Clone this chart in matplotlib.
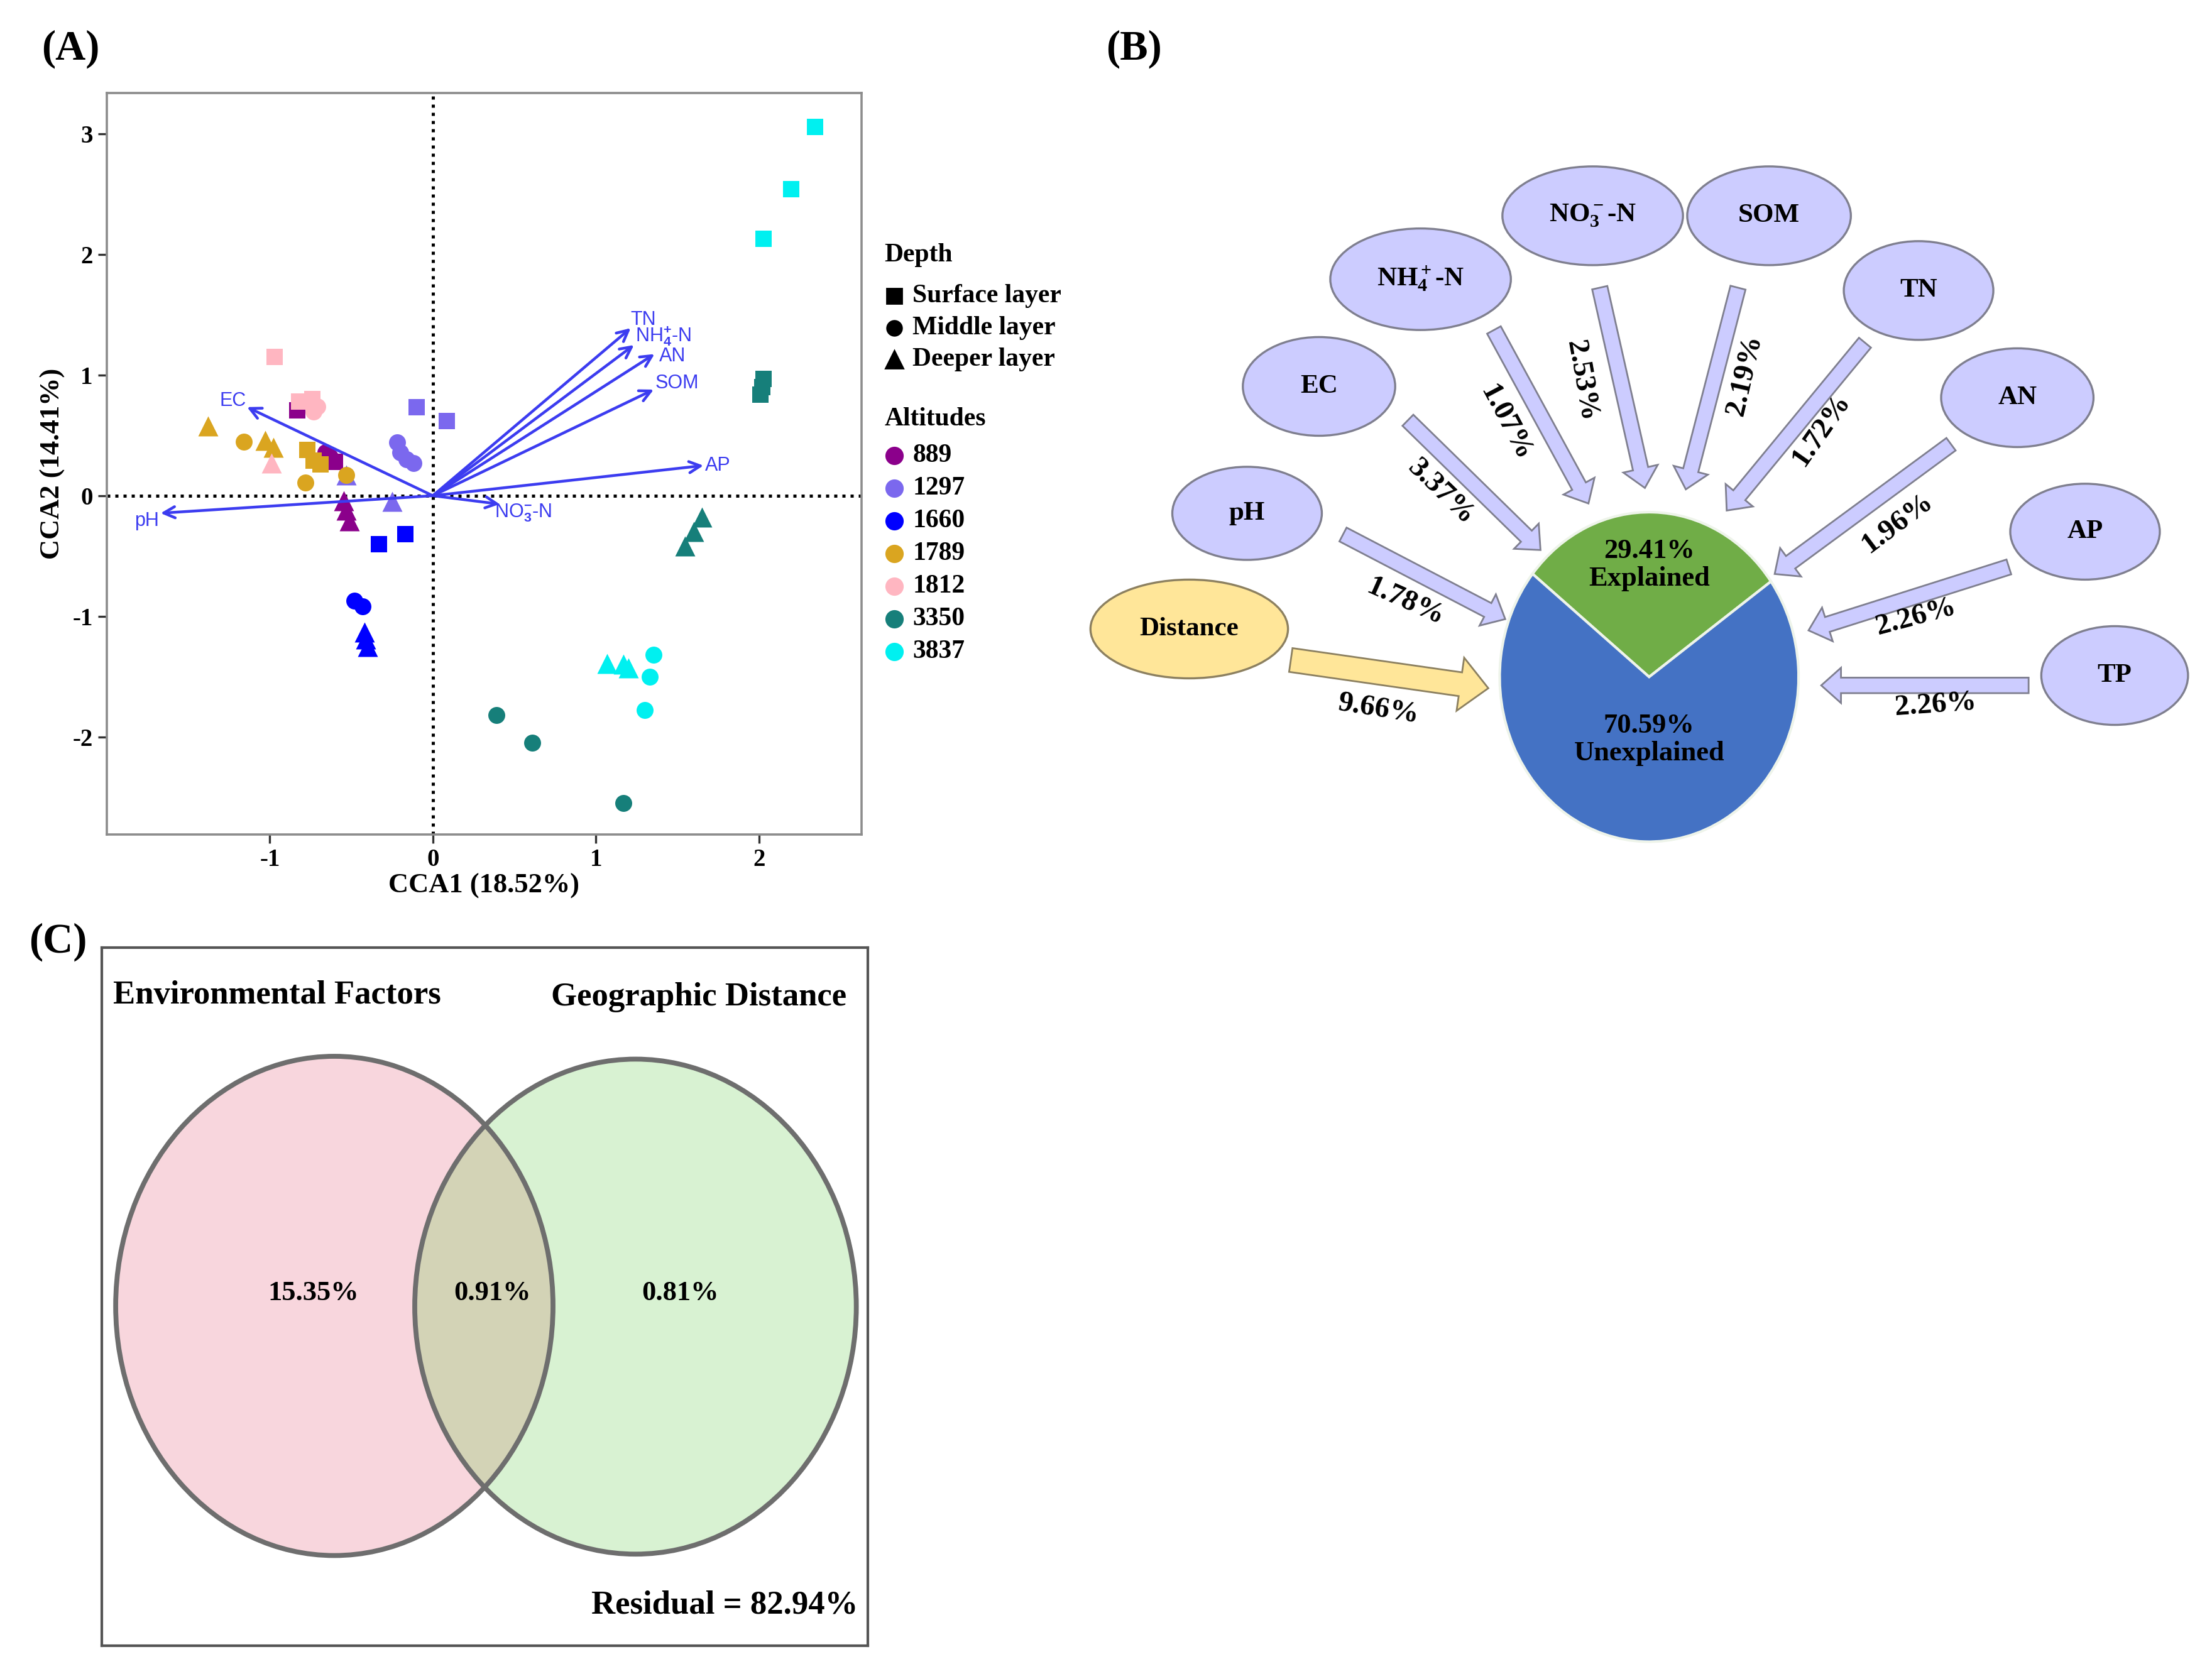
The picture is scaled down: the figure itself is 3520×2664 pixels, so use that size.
import matplotlib
matplotlib.use('Agg')
import matplotlib.pyplot as plt
from matplotlib.patches import Ellipse

plt.rcParams['font.family'] = ['Liberation Serif', 'DejaVu Serif']
plt.rcParams['font.weight'] = 'bold'
plt.rcParams['axes.labelweight'] = 'bold'
plt.rcParams['axes.unicode_minus'] = False
plt.rcParams['mathtext.fontset'] = 'custom'
plt.rcParams['mathtext.rm'] = 'Liberation Serif:bold'
plt.rcParams['mathtext.bf'] = 'Liberation Serif:bold'
plt.rcParams['mathtext.it'] = 'Liberation Serif:bold:italic'
plt.rcParams['mathtext.sf'] = 'Liberation Sans'

# ---------------- data (A) CCA ----------------
altitudes = ['889', '1297', '1660', '1789', '1812', '3350', '3837']
alt_colors = ['#8B008B', '#7B68EE', '#0000FF', '#DAA520', '#FFB6C1', '#167F7A', '#00F0F0']
depths = ['Surface layer', 'Middle layer', 'Deeper layer']
depth_markers = ['s', 'o', '^']

# one entry per sample: altitude index, depth index, CCA1, CCA2
sample_alt = [0, 0, 0, 0, 0, 0, 0,
              1, 1, 1, 1, 1, 1, 1, 1,
              2, 2, 2, 2, 2, 2, 2,
              3, 3, 3, 3, 3, 3, 3, 3, 3,
              4, 4, 4, 4, 4, 4,
              5, 5, 5, 5, 5, 5, 5, 5, 5,
              6, 6, 6, 6, 6, 6, 6, 6, 6]
sample_depth = [0, 0, 1, 1, 2, 2, 2,
                0, 0, 1, 1, 1, 1, 2, 2,
                0, 0, 1, 1, 2, 2, 2,
                0, 0, 0, 1, 1, 1, 2, 2, 2,
                0, 0, 0, 1, 1, 2,
                0, 0, 0, 1, 1, 1, 2, 2, 2,
                0, 0, 0, 1, 1, 1, 2, 2, 2]
cca1 = [-0.83, -0.60, -0.66, -0.63, -0.545, -0.53, -0.51,
        -0.10, 0.086, -0.22, -0.20, -0.16, -0.12, -0.25, -0.53,
        -0.33, -0.17, -0.48, -0.43, -0.42, -0.41, -0.40,
        -0.77, -0.73, -0.69, -1.16, -0.78, -0.53, -1.38, -1.03, -0.98,
        -0.97, -0.82, -0.74, -0.71, -0.73, -0.99,
        2.03, 2.01, 2.02, 0.39, 0.61, 1.17, 1.65, 1.60, 1.545,
        2.345, 2.20, 2.03, 1.355, 1.33, 1.30, 1.07, 1.17, 1.20]
cca2 = [0.71, 0.28, 0.36, 0.32, -0.04, -0.12, -0.21,
        0.735, 0.62, 0.44, 0.36, 0.30, 0.27, -0.05, 0.17,
        -0.40, -0.32, -0.87, -0.92, -1.13, -1.19, -1.25,
        0.38, 0.29, 0.26, 0.445, 0.11, 0.17, 0.58, 0.46, 0.40,
        1.15, 0.78, 0.80, 0.74, 0.70, 0.27,
        0.97, 0.84, 0.90, -1.82, -2.05, -2.55, -0.18, -0.30, -0.42,
        3.06, 2.54, 2.13, -1.32, -1.50, -1.78, -1.39, -1.40, -1.43]

env_labels = ['TN', r'NH$_\mathsf{4}^\mathsf{+}$-N', 'AN', 'SOM', 'AP',
              r'NO$_\mathsf{3}^\mathsf{-}$-N', 'EC', 'pH']
env_x = [1.214, 1.234, 1.36, 1.355, 1.66, 0.41, -1.14, -1.67]
env_y = [1.39, 1.25, 1.175, 0.88, 0.25, -0.07, 0.735, -0.145]

# ---------------- data (B) variation partitioning ----------------
b_factors = ['pH', 'EC', r'NH$_4^+$-N', r'NO$_3^-$-N', 'SOM', 'TN', 'AN', 'AP', 'TP']
b_pct = [1.78, 3.37, 1.07, 2.53, 2.19, 1.72, 1.96, 2.26, 2.26]
dist_pct = 9.66
explained = 29.41
unexplained = 70.59

# ---------------- data (C) Venn ----------------
env_only = 15.35
shared = 0.91
geo_only = 0.81
residual = 82.94

# ---------------- layout ----------------
W, H = 1568, 1187
fig = plt.figure(figsize=(17.6, 13.32), dpi=200)

lay = fig.add_axes([0, 0, 1, 1])
lay.set_xlim(0, W)
lay.set_ylim(H, 0)
lay.axis('off')
lay.patch.set_visible(False)

lay.text(50, 35, '(A)', fontsize=24, ha='center', va='center')
lay.text(804, 35, '(B)', fontsize=24, ha='center', va='center')
lay.text(41, 668, '(C)', fontsize=24, ha='center', va='center')

# ---- panel A ----
ax = fig.add_axes([170 / 3520, 1 - 1328 / 2664, 1201 / 3520, 1180 / 2664])
for i, c in enumerate(alt_colors):
    for j, m in enumerate(depth_markers):
        xs = [x for x, a, d in zip(cca1, sample_alt, sample_depth) if a == i and d == j]
        ys = [y for y, a, d in zip(cca2, sample_alt, sample_depth) if a == i and d == j]
        ms = 11.5 if m == '^' else 9.7
        ax.scatter(xs, ys, s=ms ** 2, marker=m, color=c, linewidths=0, zorder=3)

ax.axhline(0, color='k', ls=(0, (1, 1.6)), lw=1.8, zorder=1)
ax.axvline(0, color='k', ls=(0, (1, 1.6)), lw=1.8, zorder=1)

arrow_c = '#3C3CF0'
lab_dx = [0.0, 0.01, 0.03, 0.01, 0.01, -0.03, -0.005, -0.01]
lab_dy = [0.07, 0.07, -0.02, 0.05, 0.0, -0.075, 0.05, -0.065]
lab_ha = ['left', 'left', 'left', 'left', 'left', 'left', 'right', 'right']
for lab, x, y, dx, dy, ha in zip(env_labels, env_x, env_y, lab_dx, lab_dy, lab_ha):
    ax.annotate('', xy=(x, y), xytext=(0, 0),
                arrowprops=dict(arrowstyle='->', color=arrow_c, lw=1.6,
                                mutation_scale=16, shrinkA=0, shrinkB=0), zorder=4)
    ax.text(x + dx, y + dy, lab, color=arrow_c, fontsize=11, fontweight='normal',
            family=['Liberation Sans', 'DejaVu Sans'], ha=ha, va='center', zorder=5)

ax.set_xlim(-2.0, 2.63)
ax.set_ylim(-2.81, 3.34)
ax.set_xticks([-1, 0, 1, 2])
ax.set_yticks([-2, -1, 0, 1, 2, 3])
ax.tick_params(labelsize=14, length=5, width=1.2, color='#333333', pad=3)
for lbl in ax.get_xticklabels() + ax.get_yticklabels():
    lbl.set_fontweight('bold')
for sp in ax.spines.values():
    sp.set_color('#8c8c8c')
    sp.set_linewidth(1.3)
ax.set_xlabel('CCA1 (18.52%)', fontsize=16, fontweight='bold', labelpad=1)
ax.set_ylabel('CCA2 (14.41%)', fontsize=16, fontweight='bold', labelpad=4)

# legend (manual, to the right of panel A)
lay.text(627, 181, 'Depth', fontsize=15, ha='left', va='center')
for k, (name, m) in enumerate(zip(depths, depth_markers)):
    yk = 210 + k * 22.5
    lay.plot(634, yk, marker=m, color='k', ms=8.5 if m != '^' else 10, ls='none')
    lay.text(647, yk, name, fontsize=15, ha='left', va='center')
lay.text(627, 297, 'Altitudes', fontsize=15, ha='left', va='center')
for k, (name, c) in enumerate(zip(altitudes, alt_colors)):
    yk = 323 + k * 23.2
    lay.plot(634, yk, marker='o', color=c, ms=9.5, ls='none')
    lay.text(647, yk, name, fontsize=15, ha='left', va='center')

# ---- panel B ----
node_xy = [(884, 364), (935, 274), (1007, 198), (1129, 153), (1254, 153),
           (1360, 206), (1430, 282), (1478, 377), (1499, 479)]
node_w = [106, 108, 128, 128, 116, 106, 108, 106, 104]
node_h = [66, 70, 72, 70, 70, 70, 70, 68, 70]
arr_tail = [(952, 379), (998, 298), (1059, 234), (1134, 204), (1232, 204),
            (1322, 243), (1383, 315), (1424, 402), (1438, 486)]
arr_tip = [(1067, 439), (1092, 390), (1126, 357), (1166, 346), (1195, 347),
           (1224, 362), (1258, 407), (1282, 447), (1291, 486)]
lab_xy = [(996, 427), (1021, 349), (1067, 300), (1121, 270), (1237, 266),
          (1291, 305), (1345, 371), (1358, 438), (1372, 500)]
lab_rot = [-24, -44, -62, -80, 77, 55, 37, 15, 4]

lav = '#CCCCFF'
lav_edge = '#7F7F8F'
for (x, y), w, h, name in zip(node_xy, node_w, node_h, b_factors):
    lay.add_patch(Ellipse((x, y), w, h, fc=lav, ec=lav_edge, lw=1.2))
    lay.text(x, y, name, fontsize=15.5, ha='center', va='center')
for (x0, y0), (x1, y1) in zip(arr_tail, arr_tip):
    lay.arrow(x0, y0, x1 - x0, y1 - y0, width=11, head_width=25, head_length=14,
              length_includes_head=True, fc=lav, ec=lav_edge, lw=1.0)
for (x, y), r, p in zip(lab_xy, lab_rot, b_pct):
    lay.text(x, y, f'{p:.2f}%', fontsize=17, rotation=r, rotation_mode='anchor',
             ha='center', va='center')

# geographic distance node
lay.add_patch(Ellipse((843, 446), 140, 70, fc='#FFE699', ec='#8C8060', lw=1.2))
lay.text(843, 446, 'Distance', fontsize=15.5, ha='center', va='center')
lay.arrow(915, 468, 140, 20, width=17, head_width=38, head_length=20,
          length_includes_head=True, fc='#FFE699', ec='#8C8060', lw=1.0)
lay.text(977, 503, f'{dist_pct:.2f}%', fontsize=17, rotation=-9,
         rotation_mode='anchor', ha='center', va='center')

pax = fig.add_axes([1062 / W, 1 - 598 / H, 214 / W, 236 / H])
wedges, _ = pax.pie([explained, unexplained], colors=['#70AD47', '#4472C4'],
                    startangle=35.4, counterclock=True, radius=1,
                    wedgeprops=dict(edgecolor='#EEF4EA', linewidth=1.5))
pax.set_aspect('auto')
pax.set_xlim(-1.01, 1.01)
pax.set_ylim(-1.01, 1.01)
pax.text(0, 0.68, f'{explained:.2f}%\nExplained', fontsize=16, ha='center',
         va='center', linespacing=1.15)
pax.text(0, -0.38, f'{unexplained:.2f}%\nUnexplained', fontsize=16, ha='center',
         va='center', linespacing=1.15)

# ---- panel C ----
cax = fig.add_axes([72 / W, 1 - 1167 / H, 543 / W, 495 / H])
cax.set_xlim(72, 615)
cax.set_ylim(1167, 672)
cax.set_xticks([])
cax.set_yticks([])
for sp in cax.spines.values():
    sp.set_color('#555555')
    sp.set_linewidth(1.5)

left_c, left_w, left_h = (237, 926), 310, 354
right_c, right_w, right_h = (450.5, 926.5), 313, 351
cax.add_patch(Ellipse(left_c, left_w, left_h, fc='#F8D6DD', ec='none'))
cax.add_patch(Ellipse(right_c, right_w, right_h, fc='#D8F2D2', ec='none'))
clip = Ellipse(right_c, right_w, right_h, transform=cax.transData)
ov = Ellipse(left_c, left_w, left_h, fc='#D3D3B6', ec='none')
cax.add_patch(ov)
ov.set_clip_path(clip)
cax.add_patch(Ellipse(left_c, left_w, left_h, fill=False, ec='#6E6E6E', lw=2.8))
cax.add_patch(Ellipse(right_c, right_w, right_h, fill=False, ec='#6E6E6E', lw=2.8))

cax.text(80, 706, 'Environmental Factors', fontsize=19, ha='left', va='center')
cax.text(600, 707, 'Geographic Distance', fontsize=19, ha='right', va='center')
cax.text(222, 917, f'{env_only:.2f}%', fontsize=16, ha='center', va='center')
cax.text(349, 917, f'{shared:.2f}%', fontsize=16, ha='center', va='center')
cax.text(482, 917, f'{geo_only:.2f}%', fontsize=16, ha='center', va='center')
cax.text(608, 1138, f'Residual = {residual:.2f}%', fontsize=19, ha='right', va='center')

fig.savefig('out.png', dpi=200)
